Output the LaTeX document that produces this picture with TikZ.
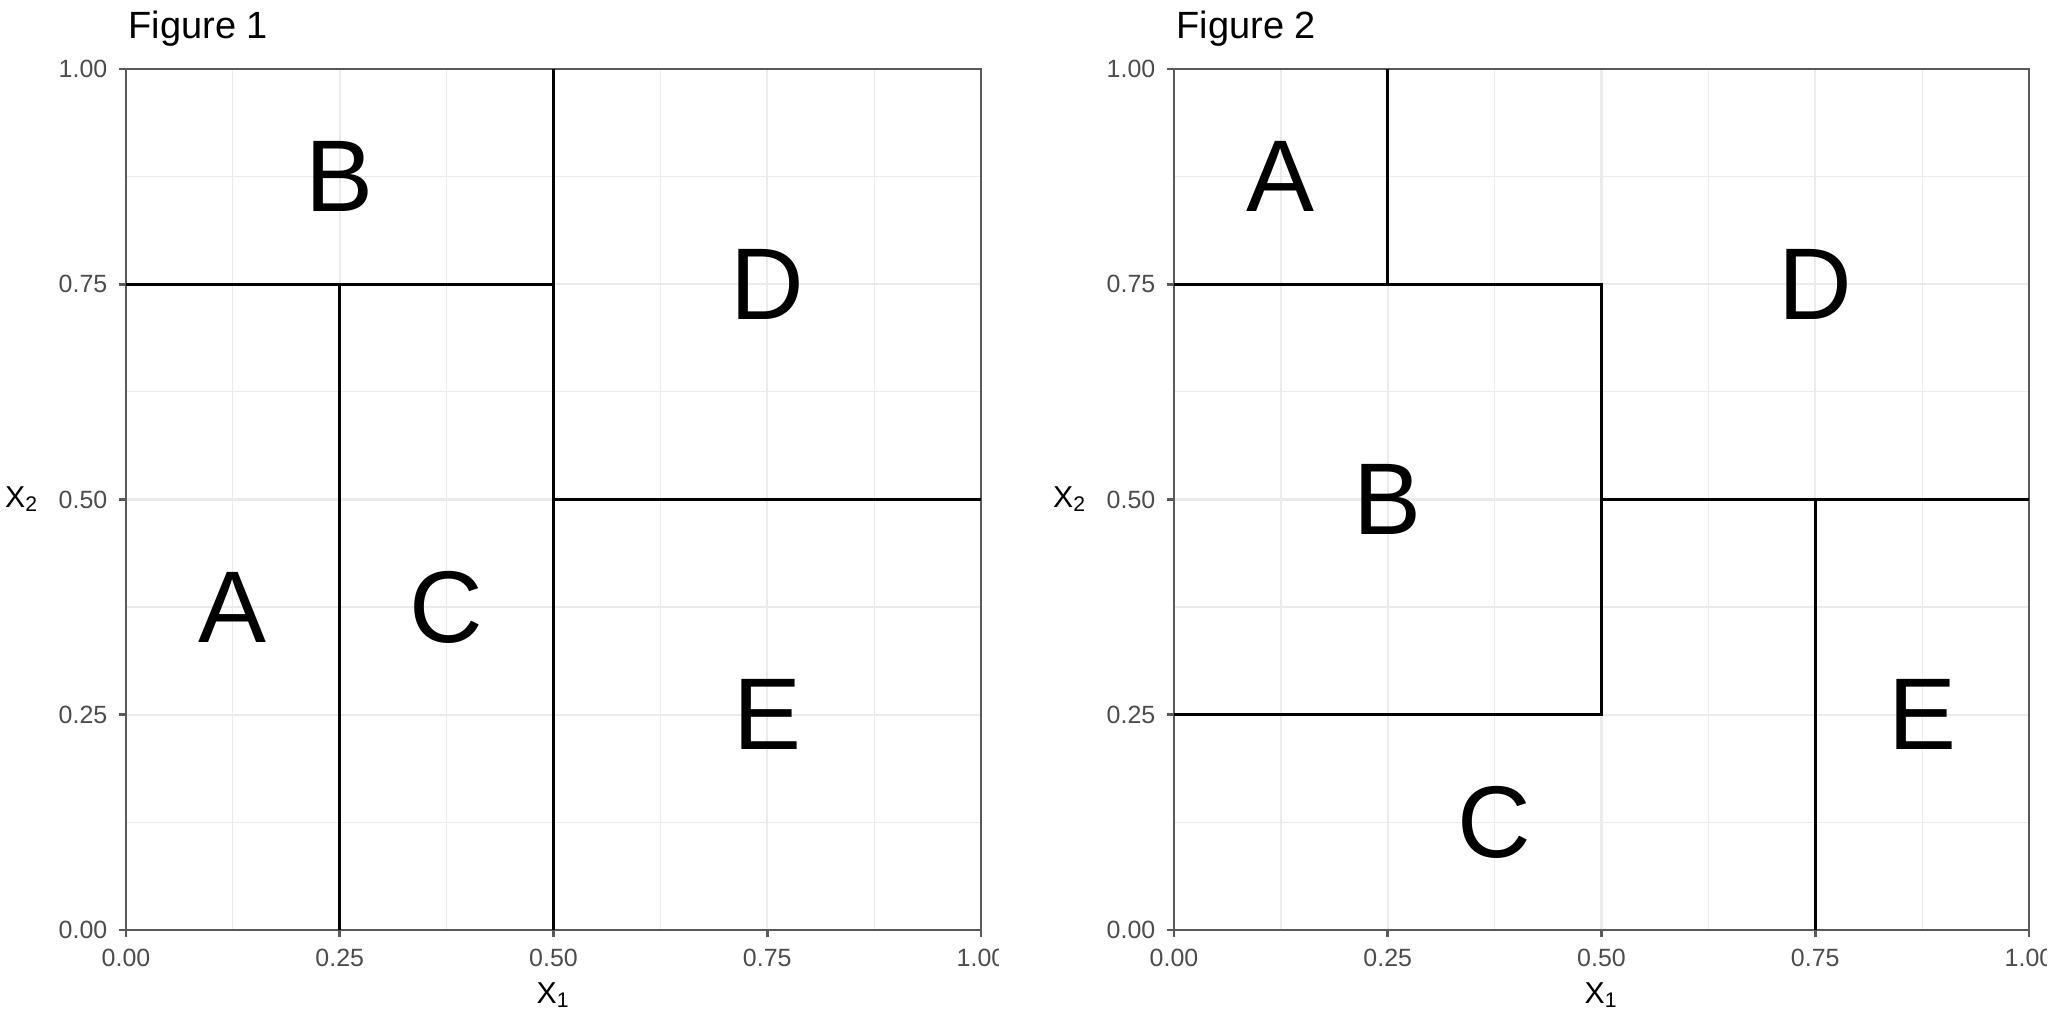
\documentclass[tikz,border=0pt]{standalone}
\usepackage{fontspec}
\setmainfont{Liberation Sans}
\usetikzlibrary{positioning}
\definecolor{GridGray}{gray}{0.92}
\definecolor{TickGray}{gray}{0.30}
\definecolor{FrameGray}{gray}{0.35}

\tikzset{
  gridminor/.style={GridGray,line width=0.35pt},
  gridmajor/.style={GridGray,line width=0.7pt},
  frame/.style={FrameGray,line width=0.8pt},
  split/.style={black,line width=0.8pt},
  ticklab/.style={TickGray,inner sep=0pt,font=\fontsize{7.1}{8}\selectfont},
  axlab/.style={inner sep=0pt,font=\fontsize{8.6}{10}\selectfont},
  ttl/.style={inner sep=0pt,anchor=base west,font=\fontsize{10.8}{13}\selectfont},
  region/.style={inner sep=0pt,font=\fontsize{29}{32}\selectfont}
}

\begin{document}
\begin{tikzpicture}
  \useasboundingbox (0,0) rectangle (20.66,10.22);
  % frames, grids, ticks
  \foreach \p/\px/\ttxt in {1/1.26/Figure 1,2/11.74/Figure 2}{
    \begin{scope}[shift={(\px,0.92)},x=8.55cm,y=8.61cm]
      \foreach \v in {0.125,0.375,0.625,0.875}{
        \draw[gridminor] (\v,0) -- (\v,1);
        \draw[gridminor] (0,\v) -- (1,\v);
      }
      \foreach \v in {0.25,0.5,0.75}{
        \draw[gridmajor] (\v,0) -- (\v,1);
        \draw[gridmajor] (0,\v) -- (1,\v);
      }
      \draw[frame] (0,0) rectangle (1,1);
      \foreach \v/\lab in {0/0.00,0.25/0.25,0.5/0.50,0.75/0.75,1/1.00}{
        \draw[frame] (0,\v) -- ++(-0.07cm,0);
        \draw[frame] (\v,0) -- ++(0,-0.07cm);
        \node[ticklab,anchor=east] (yt\p-\lab) at ([xshift=-0.18cm]0,\v) {\lab};
      }
      \begin{scope}
        \clip (-0.2,-0.2) rectangle (1.02,0);
        \foreach \v/\lab in {0/0.00,0.25/0.25,0.5/0.50,0.75/0.75,1/1.00}
          \node[ticklab,anchor=north] (xt\p-\lab) at ([yshift=-0.18cm]\v,0) {\lab};
      \end{scope}
      \node[axlab] (xl\p) at ([yshift=-0.65cm]0.5,0) {X\textsubscript{1}};
      \node[axlab] (yl\p) at ([xshift=-1.04cm]0,0.5) {X\textsubscript{2}};
      \node[ttl] (t\p) at ([xshift=0.02cm,yshift=0.30cm]0,1) {\ttxt};
    \end{scope}
  }
  % Figure 1
  \begin{scope}[shift={(1.26,0.92)},x=8.55cm,y=8.61cm]
    \draw[split] (0,0.75) -- (0.5,0.75);
    \draw[split] (0.25,0) -- (0.25,0.75);
    \draw[split] (0.5,0) -- (0.5,1);
    \draw[split] (0.5,0.5) -- (1,0.5);
    \foreach \name/\xx/\yy in {A/0.125/0.375,B/0.25/0.875,C/0.375/0.375,D/0.75/0.75,E/0.75/0.25}
      \node[region] (f1\name) at (\xx,\yy) {\name};
  \end{scope}
  % Figure 2
  \begin{scope}[shift={(11.74,0.92)},x=8.55cm,y=8.61cm]
    \draw[split] (0.25,0.75) -- (0.25,1);
    \draw[split] (0,0.75) -- (0.5,0.75) -- (0.5,0.25) -- (0,0.25);
    \draw[split] (0.5,0.5) -- (1,0.5);
    \draw[split] (0.75,0) -- (0.75,0.5);
    \foreach \name/\xx/\yy in {A/0.125/0.875,B/0.25/0.5,C/0.375/0.125,D/0.75/0.75,E/0.875/0.25}
      \node[region] (f2\name) at (\xx,\yy) {\name};
  \end{scope}
\end{tikzpicture}
\end{document}
